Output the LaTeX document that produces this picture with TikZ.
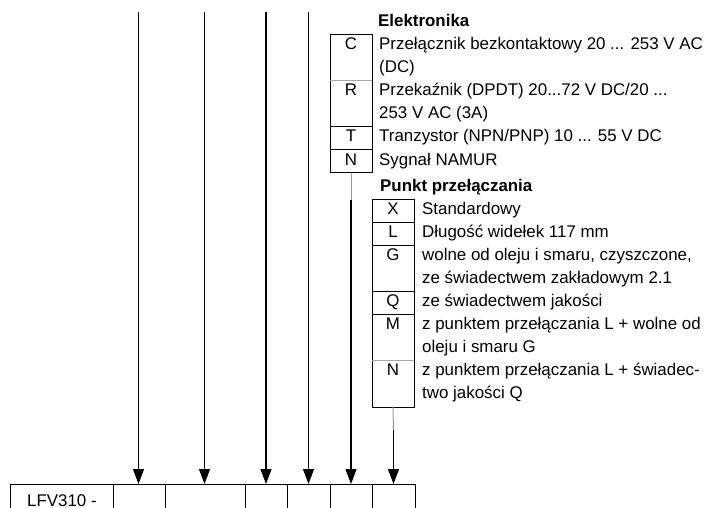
\documentclass[tikz,border=0pt]{standalone}
\usepackage{fontspec}
\setmainfont{Liberation Sans}
\usetikzlibrary{arrows.meta}
\begin{document}
\begin{tikzpicture}[x=1pt,y=-1pt,
  txt/.style={anchor=base west, inner sep=0, font=\fontsize{16.9}{23}\selectfont},
  ttl/.style={anchor=base west, inner sep=0, font=\fontsize{16.9}{23}\selectfont\bfseries},
  letter/.style={anchor=base, inner sep=0, font=\fontsize{16.9}{23}\selectfont},
  box/.style={draw, line width=1pt, inner sep=0, outer sep=0, anchor=north west},
  sep/.style={line width=1pt},
  lightsep/.style={line width=1pt, black!35},
  arr/.style={line width=1.1pt, -{Triangle[length=15pt,width=11pt]}},
  lightline/.style={line width=1pt, black!40},
]
\useasboundingbox (0,0) rectangle (715,508);
\clip (0,0) rectangle (715,508);

% ---------- bottom table ----------
\node[box, minimum width=103, minimum height=50] (c0) at (10,484) {};
\node[box, minimum width=52,  minimum height=50] (c1) at (113,484) {};
\node[box, minimum width=80,  minimum height=50] (c2) at (165,484) {};
\node[box, minimum width=42,  minimum height=50] (c3) at (245,484) {};
\node[box, minimum width=43,  minimum height=50] (c4) at (287,484) {};
\node[box, minimum width=42,  minimum height=50] (c5) at (330,484) {};
\node[box, minimum width=43,  minimum height=50] (c6) at (372,484) {};
\node[txt] (lfv) at (27,506) {LFV310 -};

% ---------- Elektronika ----------
\node[ttl] (etitle) at (378,27) {Elektronika};
\node[box, minimum width=42, minimum height=138] (ebox) at (330,35) {};
\draw[lightsep] (330,81) -- (372,81);
\draw[sep] (330,127) -- (372,127);
\draw[sep] (330,150) -- (372,150);

\node[letter] (eC) at (351,50) {C};
\node[letter] (eR) at (351,96) {R};
\node[letter] (eT) at (351,142) {T};
\node[letter] (eN) at (351,165) {N};

\node[txt] (eC1) at (379,50) {Przełącznik bezkontaktowy 20 ... 253 V AC};
\node[txt] (eC2) at (379,73) {(DC)};
\node[txt] (eR1) at (379,96) {Przekaźnik (DPDT) 20...72 V DC/20 ...};
\node[txt] (eR2) at (379,119) {253 V AC (3A)};
\node[txt] (eT1) at (379,142) {Tranzystor (NPN/PNP) 10 ... 55 V DC};
\node[txt] (eN1) at (379,165) {Sygnał NAMUR};

% ---------- Punkt przełączania ----------
\node[ttl] (ptitle) at (380,191) {Punkt przełączania};
\node[box, minimum width=42, minimum height=208] (pbox) at (372,199) {};
\draw[sep] (372,222) -- (414,222);
\draw[sep] (372,245) -- (414,245);
\draw[sep] (372,291) -- (414,291);
\draw[sep] (372,314) -- (414,314);
\draw[lightsep] (372,360) -- (414,360);

\node[letter] (pX) at (393,214) {X};
\node[letter] (pL) at (393,237) {L};
\node[letter] (pG) at (393,260) {G};
\node[letter] (pQ) at (393,306) {Q};
\node[letter] (pM) at (393,329) {M};
\node[letter] (pN) at (393,375) {N};

\node[txt] (pX1) at (422,214) {Standardowy};
\node[txt] (pL1) at (422,237) {Długość widełek 117 mm};
\node[txt] (pG1) at (422,260) {wolne od oleju i smaru, czyszczone,};
\node[txt] (pG2) at (422,283) {ze świadectwem zakładowym 2.1};
\node[txt] (pQ1) at (422,306) {ze świadectwem jakości};
\node[txt] (pM1) at (422,329) {z punktem przełączania L + wolne od};
\node[txt] (pM2) at (422,352) {oleju i smaru G};
\node[txt] (pN1) at (422,375) {z punktem przełączania L + świadec-};
\node[txt] (pN2) at (422,398) {two jakości Q};

% ---------- arrows ----------
\coordinate (a1) at (138.5,12);
\coordinate (a2) at (204.5,12);
\coordinate (a3) at (266,12);
\coordinate (a4) at (308.5,12);
\coordinate (emid) at (351,200);
\coordinate (pmid) at (393.5,430);

\draw[arr] (a1) -- (a1 |- c1.north);
\draw[arr] (a2) -- (a2 |- c2.north);
\draw[arr] (a3) -- (a3 |- c3.north);
\draw[arr] (a4) -- (a4 |- c4.north);
\draw[lightline] (ebox.south) -- (emid);
\draw[arr] (emid) -- (emid |- c5.north);
\draw[lightline] (pbox.south) -- (pmid);
\draw[arr] (pmid) -- (pmid |- c6.north);
\end{tikzpicture}
\end{document}
